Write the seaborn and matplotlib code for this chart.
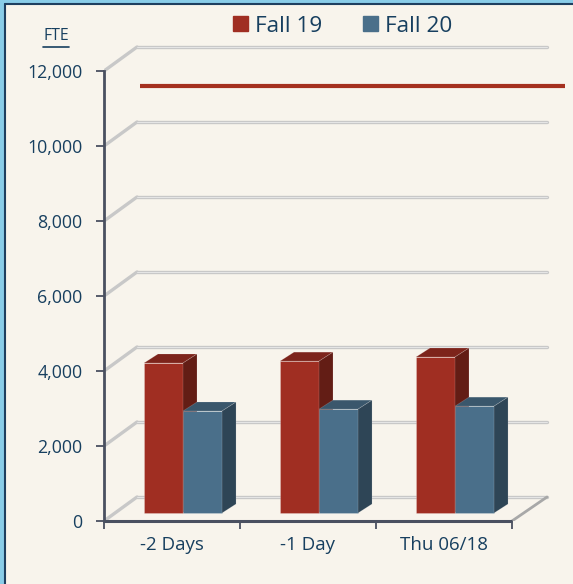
#!/usr/bin/env python3
# -*- coding: utf-8 -*-
"""FTE comparison, Fall 19 vs Fall 20 (faux 3D columns)."""

import numpy as np
import pandas as pd
import matplotlib.pyplot as plt
import seaborn as sns
from matplotlib.patches import Polygon, Rectangle
from matplotlib.lines import Line2D
from matplotlib.colors import to_rgb

# Data.
periods = ['-2 Days', '-1 Day', 'Thu 06/18']
fall19 = [4000, 4050, 4160]
fall20 = [2720, 2770, 2850]
target = 11400
yticks = [0, 2000, 4000, 6000, 8000, 10000, 12000]

RED = '#A02E22'
BLUE = '#4A6F8A'
TXT = '#173F5F'
BG = '#F8F4EC'
GRID = '#C8C8C8'
AXC = '#4A5060'

W, H = 573, 584
PX_X = 1 / 136.0          # data units per pixel (x)
PX_Y = 1000 / 37.5        # data units per pixel (y)

# depth offsets (pixels): back wall, bar front plane, bar depth
BACK = (33 * PX_X, 24 * PX_Y)
BARF = (11 * PX_X, 8 * PX_Y)
BARD = (14 * PX_X, 9 * PX_Y)

df = pd.DataFrame({
    'period': periods * 2,
    'fte': fall19 + fall20,
    'term': ['Fall 19'] * 3 + ['Fall 20'] * 3,
})

sns.set_style('white')
plt.rcParams['font.family'] = ['Open Sans', 'DejaVu Sans']

fig = plt.figure(figsize=(W / 100, H / 100), dpi=100, facecolor=BG)
ax = fig.add_axes([104 / W, (H - 521) / H, (565 - 104) / W, (521 - 35) / H])
ax.set_facecolor(BG)

sns.barplot(data=df, x='period', y='fte', hue='term', palette=[RED, BLUE],
            width=0.574, saturation=1, legend=False, ax=ax, zorder=3)

xr = -0.5 + (565 - 104) * PX_X
ax.set_xlim(-0.5, xr)
ax.set_ylim(0, (521 - 35) * PX_Y)

# back wall grid lines + connectors to the front axis
xb0, xb1 = -0.5 + BACK[0], -0.5 + (547 - 104) * PX_X
for v in yticks:
    ax.plot([xb0, xb1], [v + BACK[1]] * 2, color=GRID, lw=2.4, zorder=1,
            solid_capstyle='round')
    ax.plot([-0.5, xb0], [v, v + BACK[1]], color=GRID, lw=2.4, zorder=1)
    ax.plot([xb0, xb1], [v + BACK[1]] * 2, color='#E6E6E6', lw=0.7, zorder=1)
# floor right edge
ax.plot([xb1, 2.5], [BACK[1], 0], color='#A8A8A8', lw=2, zorder=1)

# bars: shift front faces to the bar plane, then add top and side faces
bars = sorted(ax.patches, key=lambda p: p.get_x())
for i, p in enumerate(bars):
    x0, w, h = p.get_x() + BARF[0], p.get_width(), p.get_height()
    y0 = BARF[1]
    p.set_x(x0)
    p.set_y(y0)
    p.set_edgecolor((1, 1, 1, 0.25))
    p.set_linewidth(0.6)
    p.set_zorder(3 + 0.1 * i)
    c = np.array(to_rgb(p.get_facecolor()))
    x1, y1 = x0 + w, y0 + h
    dx, dy = BARD
    top = Polygon([(x0, y1), (x1, y1), (x1 + dx, y1 + dy), (x0 + dx, y1 + dy)],
                  closed=True, facecolor=c * 0.78, edgecolor=(1, 1, 1, 0.2),
                  lw=0.5, zorder=3.05 + 0.1 * i)
    side = Polygon([(x1, y0), (x1, y1), (x1 + dx, y1 + dy), (x1 + dx, y0 + dy)],
                   closed=True, facecolor=c * 0.62, edgecolor=(1, 1, 1, 0.2),
                   lw=0.5, zorder=3.05 + 0.1 * i)
    ax.add_patch(top)
    ax.add_patch(side)

# target line
ax.hlines(target + BARF[1], -0.5 + 36 * PX_X, xr, color='#A5301F', lw=3,
          zorder=2)

# front x axis line
ax.plot([-0.5, 2.5], [0, 0], color=AXC, lw=2.2, zorder=6, clip_on=False,
        solid_capstyle='butt')

sns.despine(ax=ax, top=True, right=True, bottom=True)
ax.spines['left'].set_bounds(0, 12000)
ax.spines['left'].set_color(AXC)
ax.spines['left'].set_linewidth(2)
ax.spines['left'].set_zorder(6)

ax.set_yticks(yticks)
ax.set_yticklabels([f'{v:,}' for v in yticks])
ax.tick_params(axis='y', length=6, width=1.3, color=AXC, labelsize=12.8,
               labelcolor=TXT, pad=9.5, left=True)
ax.set_xticks(range(3))
ax.set_xticklabels(periods)
ax.set_xticks([-0.5, 0.5, 1.5, 2.5], minor=True)
ax.tick_params(axis='x', which='major', length=0, labelsize=13.5,
               labelcolor=TXT, pad=11)
ax.tick_params(axis='x', which='minor', length=6, width=1.3, color=AXC,
               bottom=True)
ax.set_xlabel('')
ax.set_ylabel('')

# y axis title, underlined
fig.text(56 / W, 1 - 36 / H, 'FTE', ha='center', va='center',
         fontsize=11.4, color=TXT)
fig.add_artist(Line2D([43 / W, 69 / W], [1 - 46.5 / H] * 2, color=TXT, lw=1.2,
                      transform=fig.transFigure))

# legend
handles = [Rectangle((0, 0), 1, 1, color=RED), Rectangle((0, 0), 1, 1, color=BLUE)]
fig.legend(handles, ['Fall 19', 'Fall 20'], loc='center',
           bbox_to_anchor=(342.5 / W, 1 - 26 / H), ncol=2, frameon=False,
           fontsize=16.2, handlelength=0.67, handleheight=0.67,
           handletextpad=0.31, columnspacing=1.82, labelcolor=TXT)

# frame on left and top edges
fig.add_artist(Rectangle((0, 0), 4 / W, 1, transform=fig.transFigure,
                         color='#8ACDE8', zorder=10))
fig.add_artist(Rectangle((0, 1 - 3 / H), 1, 3 / H, transform=fig.transFigure,
                         color='#8ACDE8', zorder=10))
fig.add_artist(Line2D([5 / W, 5 / W], [0, 1 - 3.5 / H], color='#1F3F5F', lw=1.5,
                      transform=fig.transFigure, zorder=11))
fig.add_artist(Line2D([5 / W, 1], [1 - 3.5 / H] * 2, color='#1F3F5F', lw=1.5,
                      transform=fig.transFigure, zorder=11))

fig.savefig('out.png', dpi=100, facecolor=BG)
